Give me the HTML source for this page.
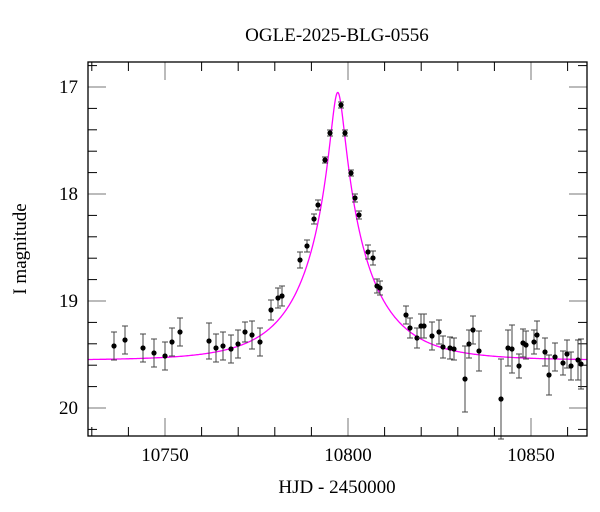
<!DOCTYPE html>
<html><head><meta charset="utf-8"><style>
body{margin:0;background:#fff}
svg{display:block;font-family:"Liberation Serif",serif}
</style></head><body>
<svg id="s" width="600" height="512" xmlns="http://www.w3.org/2000/svg">
<rect x="0" y="0" width="600" height="512" fill="#fff"/>
<text x="337" y="41" font-size="19" text-anchor="middle">OGLE-2025-BLG-0556</text>
<text x="337" y="493" font-size="19" text-anchor="middle">HJD - 2450000</text>
<text transform="translate(26,249) rotate(-90)" font-size="19" text-anchor="middle">I magnitude</text>
<g font-size="19" text-anchor="middle">
<text x="165" y="461">10750</text><text x="348" y="461">10800</text><text x="531" y="461">10850</text>
</g>
<g font-size="19" text-anchor="end">
<text x="78" y="93">17</text><text x="78" y="200">18</text><text x="78" y="307">19</text><text x="78" y="414">20</text>
</g>
<g id="ticks" stroke="#000" stroke-width="1"></g>
<path id="curve" fill="none" stroke="#ff00ff" stroke-width="1.3"/>
<g id="pts"></g>
<rect x="88" y="62" width="499" height="374" fill="none" stroke="#000" stroke-width="1.3"/>
</svg>
<script>
var L=88,R=587,T=62,B=436;
function X(t){return 165+(t-10750)*3.66;}
function Y(m){return 87+(m-17)*107;}
var tk=document.getElementById('ticks'),h='';
for(var t=10730;t<=10865;t+=10){var x=X(t),len=(t%50==0)?18:9,c=(t%50==0)?'#777':'#000';
h+='<line x1="'+x+'" y1="'+B+'" x2="'+x+'" y2="'+(B-len)+'" stroke="'+c+'"/>';
h+='<line x1="'+x+'" y1="'+T+'" x2="'+x+'" y2="'+(T+len)+'" stroke="'+c+'"/>';}
for(var i=0;i<=17;i++){var m=16.8+i*0.2;var y=Y(m);if(y<T||y>B)continue;var maj=Math.abs(m-Math.round(m))<0.01,len=maj?18:9,c=maj?'#777':'#000';
h+='<line x1="'+L+'" y1="'+y+'" x2="'+(L+len)+'" y2="'+y+'" stroke="'+c+'"/>';
h+='<line x1="'+R+'" y1="'+y+'" x2="'+(R-len)+'" y2="'+y+'" stroke="'+c+'"/>';}
tk.innerHTML=h;
var d='';for(var x=L;x<=R;x+=0.5){var t=10750+(x-165)/3.66;var tau=(t-10797.2)/18,u0=0.100;var u=Math.sqrt(tau*tau+u0*u0);
var A=(u*u+2)/(u*Math.sqrt(u*u+4));var m=19.555-2.5*Math.log10(A);d+=(d?'L':'M')+x.toFixed(1)+' '+Y(m).toFixed(1);}
document.getElementById('curve').setAttribute('d',d);
var P=[[114,346,14],[125,340,14],[143,348,14],[154,353,14],[165,356,14],[172,342,14],[180,332,14],[209,341,18],[216,348,14],[223,346,14],[231,349,14],[238,344,14],[245,332,10],[252,335,14],[260,342,14],[271,310,10],[278,298,10],[282,296,10],[300,260,8],[307,246,6],[314,219,5],[318,205,5],[325,160,3],[330,133,3],[341,105,3],[345,133,3],[351,173,3],[355,198,4],[359,215,4],[368,252,7],[373,258,7],[377,286,7],[380,288,7],[406,315,9],[410,328,10],[417,338,10],[421,326,12],[424,326,12],[432,336,14],[439,332,12],[443,347,11],[450,348,11],[454,349,11],[465,379,33],[469,344,14],[473,330,14],[479,351,20],[501,399,40],[508,348,18],[512,349,24],[519,366,12],[523,343,14],[526,345,14],[534,342,12],[537,335,14],[545,352,14],[549,375,20],[555,357,14],[563,363,12],[567,354,14],[571,366,14],[578,360,20],[581,364,25]];
var g='';P.forEach(function(p){var x=p[0],y=p[1],e=p[2];
g+='<line x1="'+x+'" y1="'+(y-e)+'" x2="'+x+'" y2="'+(y+e)+'" stroke="#444" stroke-width="1"/>';
g+='<line x1="'+(x-3)+'" y1="'+(y-e)+'" x2="'+(x+3)+'" y2="'+(y-e)+'" stroke="#444"/>';
g+='<line x1="'+(x-3)+'" y1="'+(y+e)+'" x2="'+(x+3)+'" y2="'+(y+e)+'" stroke="#444"/>';
g+='<circle cx="'+x+'" cy="'+y+'" r="2.6" fill="#000"/>';});
document.getElementById('pts').innerHTML=g;
</script>
</body></html>
